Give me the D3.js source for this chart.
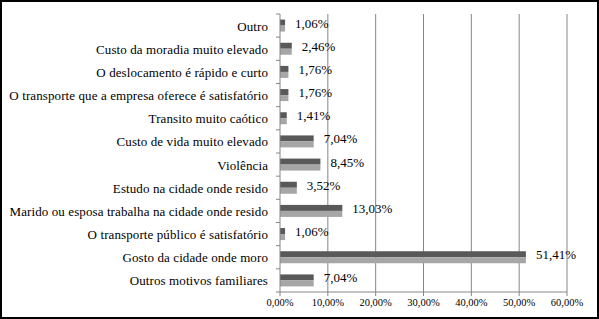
<!DOCTYPE html>
<html>
<head>
<meta charset="utf-8">
<script src="https://cdn.jsdelivr.net/npm/d3@7"></script>
<style>
  body { margin: 0; background: #fff; }
  svg { display: block; }
</style>
</head>
<body>
<svg id="svgRoot" width="599" height="319"></svg>
<script>
// categories top to bottom as in the picture
const categories = [
  "Outro",
  "Custo da moradia muito elevado",
  "O deslocamento é rápido e curto",
  "O transporte que a empresa oferece é satisfatório",
  "Transito muito caótico",
  "Custo de vida muito elevado",
  "Violência",
  "Estudo na cidade onde resido",
  "Marido ou esposa trabalha na cidade onde resido",
  "O transporte público é satisfatório",
  "Gosto da cidade onde moro",
  "Outros motivos familiares"
]
// two series, same numbers (dark drawn above light)
const series_dark = [1.06, 2.46, 1.76, 1.76, 1.41, 7.04, 8.45, 3.52, 13.03, 1.06, 51.41, 7.04]
const series_light = [1.06, 2.46, 1.76, 1.76, 1.41, 7.04, 8.45, 3.52, 13.03, 1.06, 51.41, 7.04]
const x_ticks = [0, 10, 20, 30, 40, 50, 60]

const fmt = (v) => v.toFixed(2).replace(".", ",") + "%"
const FONT = "Liberation Serif"

function draw_vis() {
  let svg = d3.select("#svgRoot")
  const width = 599, height = 319

  const margin = { top: 14, left: 280, bottom: 27, right: 32 }

  // frame
  svg.append("rect")
    .attr("x", 1).attr("y", 1)
    .attr("width", width - 2).attr("height", height - 2)
    .attr("fill", "none").attr("stroke", "#000").attr("stroke-width", 2)

  let scale_x = d3.scaleLinear()
    .domain([0, 60])
    .range([margin.left, width - margin.right])

  let scale_y = d3.scaleBand()
    .domain(categories)
    .range([margin.top, height - margin.bottom])

  let scale_sub = d3.scaleBand()
    .domain(["dark", "light"])
    .range([0, 12])

  // gridlines
  svg.append("g").selectAll("line")
    .data(x_ticks.slice(1))
    .enter().append("line")
    .attr("x1", (d) => scale_x(d)).attr("x2", (d) => scale_x(d))
    .attr("y1", margin.top).attr("y2", height - margin.bottom)
    .attr("stroke", "#868686").attr("stroke-width", 1)

  // bars
  const pad = (scale_y.bandwidth() - 12) / 2
  let g_bars = svg.append("g")
  const rows = categories.map((c, i) => ({ c: c, dark: series_dark[i], light: series_light[i] }))
  ;["dark", "light"].forEach((s) => {
    g_bars.selectAll(".bar_" + s)
      .data(rows)
      .enter().append("rect")
      .attr("class", "bar_" + s)
      .attr("x", scale_x(0))
      .attr("y", (d) => scale_y(d.c) + pad + scale_sub(s))
      .attr("width", (d) => scale_x(d[s]) - scale_x(0))
      .attr("height", scale_sub.bandwidth())
      .attr("fill", s == "dark" ? "#595959" : "#a6a6a6")
  })

  // data labels
  svg.append("g").selectAll("text")
    .data(rows)
    .enter().append("text")
    .attr("x", (d) => scale_x(d.dark) + 10)
    .attr("y", (d) => scale_y(d.c) + scale_y.bandwidth() / 2 + 2)
    .attr("font-family", FONT)
    .attr("font-size", 13)
    .text((d) => fmt(d.dark))

  // y axis
  let g_yAxis = svg.append("g")
    .attr("transform", "translate(" + scale_x(0) + ",0)")
  g_yAxis.append("line")
    .attr("x1", 0).attr("x2", 0)
    .attr("y1", margin.top).attr("y2", height - margin.bottom)
    .attr("stroke", "#868686")
  g_yAxis.selectAll(".ytick")
    .data(d3.range(categories.length + 1))
    .enter().append("line")
    .attr("x1", -4).attr("x2", 0)
    .attr("y1", (i) => margin.top + i * scale_y.step())
    .attr("y2", (i) => margin.top + i * scale_y.step())
    .attr("stroke", "#868686")
  g_yAxis.selectAll(".ylab")
    .data(categories)
    .enter().append("text")
    .attr("x", -12)
    .attr("y", (d) => scale_y(d) + scale_y.bandwidth() / 2 + 5)
    .attr("text-anchor", "end")
    .attr("font-family", FONT)
    .attr("font-size", 13)
    .attr("letter-spacing", 0.1)
    .text((d) => d)

  // x axis
  let g_xAxis = svg.append("g")
    .attr("transform", "translate(0," + (height - margin.bottom) + ")")
  g_xAxis.append("line")
    .attr("x1", scale_x(0)).attr("x2", scale_x(60))
    .attr("stroke", "#868686")
  g_xAxis.selectAll(".xtick")
    .data(x_ticks)
    .enter().append("line")
    .attr("x1", (d) => scale_x(d)).attr("x2", (d) => scale_x(d))
    .attr("y1", 0).attr("y2", 4)
    .attr("stroke", "#868686")
  g_xAxis.selectAll(".xlab")
    .data(x_ticks)
    .enter().append("text")
    .attr("x", (d) => scale_x(d))
    .attr("y", 14)
    .attr("text-anchor", "middle")
    .attr("font-family", FONT)
    .attr("font-size", 10.5)
    .text((d) => fmt(d))
}

draw_vis()
</script>
</body>
</html>
